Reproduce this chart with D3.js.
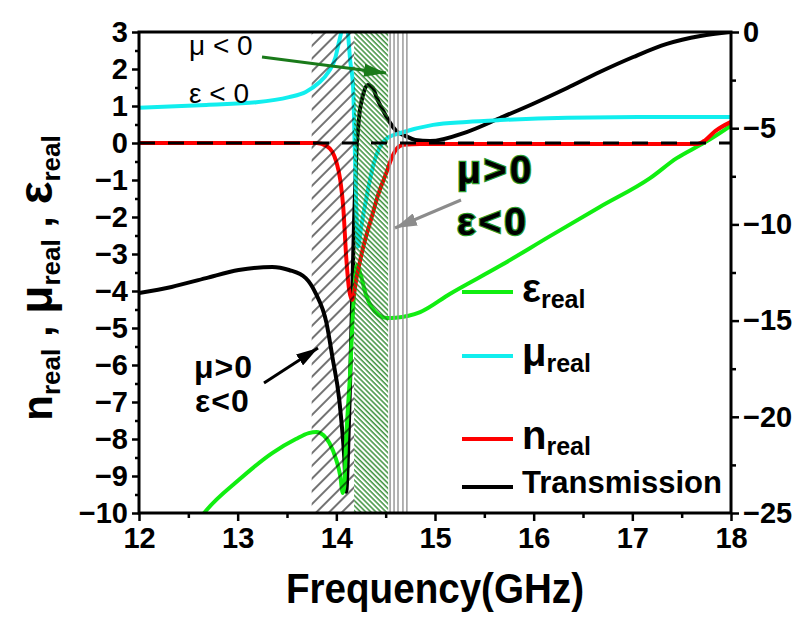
<!DOCTYPE html>
<html>
<head>
<meta charset="utf-8">
<script src="https://cdn.jsdelivr.net/npm/d3@7"></script>
<style>
  body { margin: 0; background: #fff; }
  svg text { font-family: "Liberation Sans", Arial, sans-serif; font-weight: bold; fill: #000; }
</style>
</head>
<body>
<svg id="chart" width="793" height="624"></svg>
<script>
// values (frequency in GHz)
var epsFreq = [12.55, 12.66, 13.01, 13.35, 13.59, 13.72, 13.80, 13.87, 13.93, 14.0, 14.04, 14.065, 14.08, 14.1, 14.14, 14.17, 14.21, 14.25, 14.3, 14.36, 14.43, 14.51, 14.6, 14.85, 15.15, 15.66, 16.17, 16.67, 17.18, 17.45, 17.69, 17.8, 18.0];
var epsReal = [-10.4, -10.0, -9.11, -8.38, -8.0, -7.84, -7.81, -7.9, -8.11, -8.57, -9.0, -9.46, -9.3, -8.0, -6.2, -4.5, -3.3, -3.6, -4.1, -4.45, -4.65, -4.73, -4.72, -4.57, -4.08, -3.32, -2.51, -1.73, -0.95, -0.41, -0.05, 0.12, 0.47];

var muFreq = [12, 12.68, 13.19, 13.52, 13.69, 13.82, 13.92, 13.99, 14.02, 14.05, 14.08, 14.11, 14.14, 14.17, 14.18, 14.19, 14.2, 14.22, 14.25, 14.32, 14.38, 14.44, 14.52, 14.65, 14.98, 15.32, 15.66, 16.34, 17.2, 18];
var muReal = [0.95, 1.03, 1.1, 1.24, 1.38, 1.62, 1.92, 2.3, 2.65, 3.0, 3.5, 3.2, 2.24, 1.51, 0.62, -0.46, -1.54, -2.8, -2.3, -1.27, -0.54, -0.11, 0.14, 0.27, 0.49, 0.57, 0.62, 0.68, 0.7, 0.7];

var nFreq = [12, 13.8, 13.9, 13.96, 14.0, 14.04, 14.07, 14.1, 14.13, 14.16, 14.21, 14.27, 14.35, 14.43, 14.51, 14.56, 14.61, 14.68, 14.85, 16.5, 17.66, 17.74, 17.84, 18];
var nReal = [0, 0, -0.08, -0.24, -0.51, -1.0, -1.73, -3.08, -3.97, -4.24, -3.57, -2.84, -2.08, -1.35, -0.78, -0.41, -0.16, -0.05, -0.03, -0.03, -0.03, 0.08, 0.32, 0.57];

var trFreq = [12, 12.33, 12.68, 13.01, 13.35, 13.52, 13.69, 13.79, 13.90, 13.96, 14.03, 14.08, 14.10, 14.12, 14.14, 14.16, 14.18, 14.20, 14.23, 14.27, 14.32, 14.37, 14.41, 14.47, 14.54, 14.61, 14.70, 14.80, 14.95, 15.32, 15.66, 15.99, 16.34, 16.67, 17.01, 17.35, 17.69, 18];
var trDb = [-13.57, -13.25, -12.79, -12.37, -12.21, -12.37, -12.79, -13.57, -15.12, -16.89, -19.13, -22.09, -23.9, -21.7, -18.1, -13.9, -9.8, -6.65, -4.47, -3.27, -2.75, -2.9, -3.43, -4.05, -4.68, -5.15, -5.4, -5.61, -5.67, -5.2, -4.47, -3.74, -2.91, -2.08, -1.3, -0.62, -0.21, 0];

var xTicks = [12, 13, 14, 15, 16, 17, 18];
var yLeftTicks = [-10, -9, -8, -7, -6, -5, -4, -3, -2, -1, 0, 1, 2, 3];
var yRightTicks = [0, -5, -10, -15, -20, -25];

// marked frequency bands
var bandHatchBlack = [13.75, 14.18];
var bandHatchGreen = [14.18, 14.525];
var grayLineFreqs = [14.545, 14.585, 14.625, 14.675, 14.715];

var svg = d3.select('#chart');
var x = d3.scaleLinear().domain([12, 18]).range([139, 731]);
var yL = d3.scaleLinear().domain([-10, 3]).range([513, 32]);
var yR = d3.scaleLinear().domain([-25, 0]).range([513, 32]);

var defs = svg.append('defs');
defs.append('clipPath').attr('id', 'plotclip')
    .append('rect').attr('x', 139).attr('y', 32).attr('width', 592).attr('height', 481);

var pb = defs.append('pattern').attr('id', 'hatchBlack')
    .attr('patternUnits', 'userSpaceOnUse').attr('width', 9).attr('height', 9)
    .attr('patternTransform', 'rotate(45)');
pb.append('line').attr('x1', 1).attr('y1', 0).attr('x2', 1).attr('y2', 9)
    .attr('stroke', '#000').attr('stroke-width', 1.1);

var pg = defs.append('pattern').attr('id', 'hatchGreen')
    .attr('patternUnits', 'userSpaceOnUse').attr('width', 3.6).attr('height', 3.6)
    .attr('patternTransform', 'rotate(-45)');
pg.append('line').attr('x1', 1).attr('y1', 0).attr('x2', 1).attr('y2', 3.6)
    .attr('stroke', '#1f7f1f').attr('stroke-width', 1.3);

function arrowMarker(id, color) {
    defs.append('marker').attr('id', id)
        .attr('viewBox', '0 0 22 13').attr('refX', 22).attr('refY', 6.5)
        .attr('markerWidth', 22).attr('markerHeight', 13)
        .attr('markerUnits', 'userSpaceOnUse').attr('orient', 'auto')
        .append('path').attr('d', 'M0,0 L22,6.5 L0,13 Z').attr('fill', color);
}
arrowMarker('arrGreen', '#1a7a1a');
arrowMarker('arrGray', '#8c8c8c');
arrowMarker('arrBlack', '#000');

// curves
var plot = svg.append('g').attr('clip-path', 'url(#plotclip)');
function drawCurve(fs, vs, yScale, color) {
    var line = d3.line()
        .x(function(d) { return x(d[0]); })
        .y(function(d) { return yScale(d[1]); })
        .curve(d3.curveMonotoneX);
    plot.append('path')
        .datum(d3.zip(fs, vs))
        .attr('d', line)
        .attr('fill', 'none')
        .attr('stroke', color)
        .attr('stroke-width', 4)
        .attr('stroke-linejoin', 'round');
}
drawCurve(trFreq, trDb, yR, '#000');
drawCurve(epsFreq, epsReal, yL, '#11ee11');
drawCurve(muFreq, muReal, yL, '#11eeee');
drawCurve(nFreq, nReal, yL, '#ff0000');

// hatched bands on top of the curves
svg.append('rect')
    .attr('x', x(bandHatchBlack[0])).attr('y', 32)
    .attr('width', x(bandHatchBlack[1]) - x(bandHatchBlack[0])).attr('height', 481)
    .attr('fill', 'url(#hatchBlack)');
svg.append('rect')
    .attr('x', x(bandHatchGreen[0])).attr('y', 32)
    .attr('width', x(bandHatchGreen[1]) - x(bandHatchGreen[0])).attr('height', 481)
    .attr('fill', 'url(#hatchGreen)');
svg.selectAll('.gline').data(grayLineFreqs).enter().append('line')
    .attr('class', 'gline')
    .attr('x1', function(d) { return x(d); }).attr('x2', function(d) { return x(d); })
    .attr('y1', 32).attr('y2', 513)
    .attr('stroke', '#9a9a9a').attr('stroke-width', 1.5);

// zero line
svg.append('line')
    .attr('x1', x(12)).attr('x2', x(18)).attr('y1', yL(0)).attr('y2', yL(0))
    .attr('stroke', '#000').attr('stroke-width', 3).attr('stroke-dasharray', '16,13');

// axes
function styleAxis(g, fs) {
    g.select('.domain').remove();
    g.selectAll('.tick line').attr('stroke', '#000').attr('stroke-width', 2.5);
    g.selectAll('.tick text').attr('font-size', fs).attr('fill', '#000')
        .style('font-family', '"Liberation Sans", Arial, sans-serif').style('font-weight', 'bold');
}
var fmt = d3.format('d');
svg.append('g').attr('transform', 'translate(139,0)')
    .call(d3.axisLeft(yL).tickValues(yLeftTicks).tickFormat(fmt).tickSize(7).tickPadding(4))
    .call(styleAxis, 29);
svg.append('g').attr('transform', 'translate(139,0)')
    .call(d3.axisLeft(yL).tickValues(d3.range(-9.5, 3, 1)).tickSize(4).tickFormat(''))
    .call(styleAxis, 29);
svg.append('g').attr('transform', 'translate(0,513)')
    .call(d3.axisBottom(x).tickValues(xTicks).tickFormat(fmt).tickSize(8).tickPadding(6))
    .call(styleAxis, 29);
svg.append('g').attr('transform', 'translate(0,513)')
    .call(d3.axisBottom(x).tickValues(d3.range(12.5, 18, 1)).tickSize(5).tickFormat(''))
    .call(styleAxis, 29);
svg.append('g').attr('transform', 'translate(731,0)')
    .call(d3.axisRight(yR).tickValues(yRightTicks).tickFormat(fmt).tickSize(8).tickPadding(4))
    .call(styleAxis, 29);
svg.append('g').attr('transform', 'translate(731,0)')
    .call(d3.axisRight(yR).tickValues(d3.range(-22.5, 0, 5)).tickSize(5).tickFormat(''))
    .call(styleAxis, 29);

// frame
svg.append('rect').attr('x', 139).attr('y', 32).attr('width', 592).attr('height', 481)
    .attr('fill', 'none').attr('stroke', '#000').attr('stroke-width', 3);

// axis titles
svg.append('text').attr('x', 435).attr('y', 603).attr('text-anchor', 'middle')
    .attr('font-size', 43).attr('textLength', 298).attr('lengthAdjust', 'spacingAndGlyphs')
    .text('Frequency(GHz)');

var yt = svg.append('text').attr('transform', 'translate(52,278) rotate(-90)')
    .attr('text-anchor', 'middle').attr('font-size', 42);
yt.append('tspan').text('n');
yt.append('tspan').attr('font-size', 26).attr('dy', 8).text('real');
yt.append('tspan').attr('dy', -8).text(' , ');
yt.append('tspan').attr('font-size', 46).text('μ');
yt.append('tspan').attr('font-size', 26).attr('dy', 8).text('real');
yt.append('tspan').attr('dy', -8).text(' , ');
yt.append('tspan').attr('font-size', 48).text('ε');
yt.append('tspan').attr('font-size', 26).attr('dy', 8).text('real');

// legend
var legendRows = [
    { sym: 'ε', sub: 'real', color: '#11ee11', y: 292, symSize: 40 },
    { sym: 'μ', sub: 'real', color: '#11eeee', y: 356, symSize: 40 },
    { sym: 'n', sub: 'real', color: '#ff0000', y: 439, symSize: 40 },
    { sym: 'Transmission', sub: '', color: '#000', y: 487, symSize: 32 }
];
legendRows.forEach(function(r) {
    svg.append('line').attr('x1', 462).attr('x2', 513).attr('y1', r.y).attr('y2', r.y)
        .attr('stroke', r.color).attr('stroke-width', 4);
    var t = svg.append('text').attr('x', 522).attr('y', r.y + (r.sub ? 10 : 6)).attr('font-size', r.symSize);
    if (r.sub) {
        t.append('tspan').text(r.sym);
        t.append('tspan').attr('font-size', 25).attr('dy', 6).text(r.sub);
    } else {
        t.attr('textLength', 200).attr('lengthAdjust', 'spacingAndGlyphs').text(r.sym);
    }
});

// annotations
svg.append('text').attr('x', 189).attr('y', 55).attr('font-size', 28)
    .style('font-weight', 'normal').text('μ < 0');
svg.append('text').attr('x', 189).attr('y', 103).attr('font-size', 28)
    .style('font-weight', 'normal').text('ε < 0');
svg.append('line').attr('x1', 262).attr('y1', 57).attr('x2', 386).attr('y2', 73)
    .attr('stroke', '#1a7a1a').attr('stroke-width', 3).attr('marker-end', 'url(#arrGreen)');

svg.append('text').attr('x', 457).attr('y', 183).attr('font-size', 39).attr('letter-spacing', 3)
    .attr('stroke', '#2a9a2a').attr('stroke-width', 2.5).attr('paint-order', 'stroke').text('μ>0');
svg.append('text').attr('x', 457).attr('y', 235).attr('font-size', 39).attr('letter-spacing', 3)
    .attr('stroke', '#2a9a2a').attr('stroke-width', 2.5).attr('paint-order', 'stroke').text('ε<0');
svg.append('line').attr('x1', 461).attr('y1', 200).attr('x2', 395).attr('y2', 228)
    .attr('stroke', '#8c8c8c').attr('stroke-width', 3).attr('marker-end', 'url(#arrGray)');

svg.append('text').attr('x', 194).attr('y', 378).attr('font-size', 32).attr('letter-spacing', 1).text('μ>0');
svg.append('text').attr('x', 195).attr('y', 412).attr('font-size', 32).attr('letter-spacing', 1).text('ε<0');
svg.append('line').attr('x1', 264).attr('y1', 383).attr('x2', 318).attr('y2', 348)
    .attr('stroke', '#000').attr('stroke-width', 3).attr('marker-end', 'url(#arrBlack)');
</script>
</body>
</html>
